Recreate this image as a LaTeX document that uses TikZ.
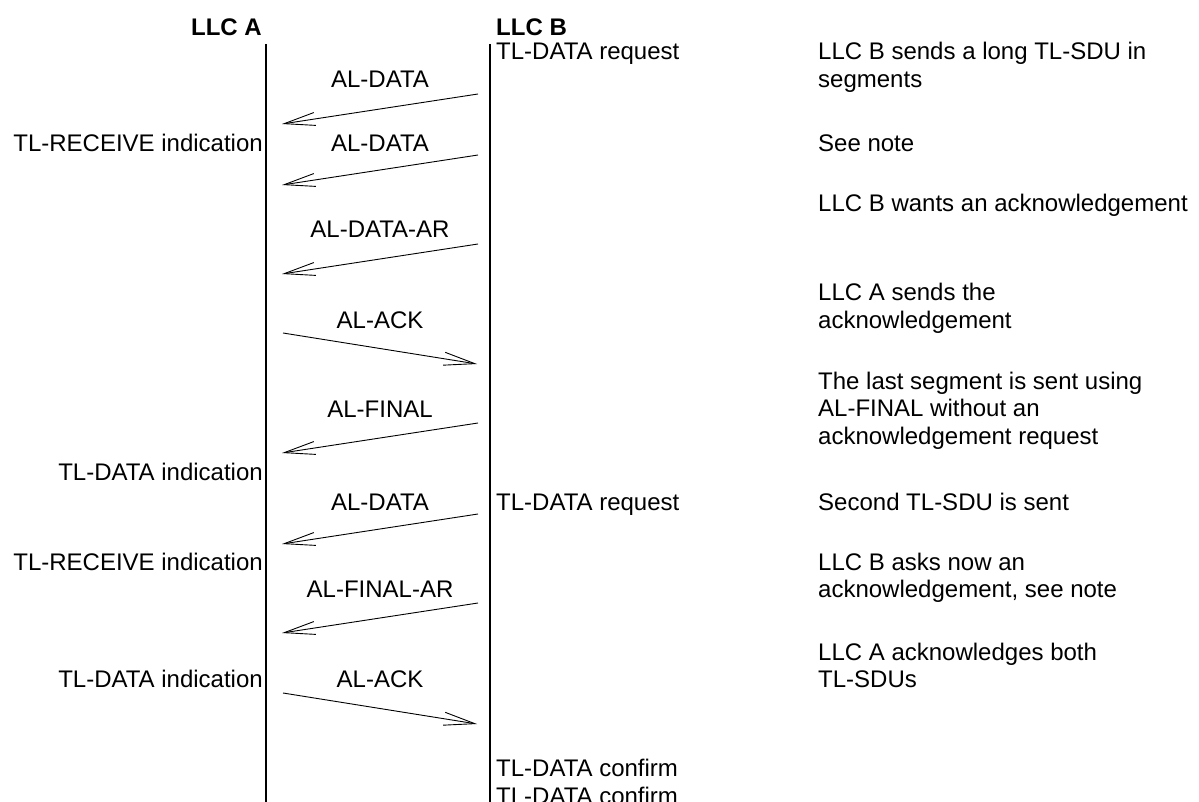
\documentclass[tikz,border=0pt]{standalone}
\usepackage{fontspec}
\setmainfont{Liberation Sans}
\usetikzlibrary{arrows.meta}

\begin{document}
\begin{tikzpicture}[x=1pt, y=-1pt, >={Straight Barb[length=31pt,width=13pt]},
  font=\fontsize{24}{27.6}\selectfont, inner sep=0pt,
  msg/.style={->, line width=0.9pt},
  lifeline/.style={line width=1.8pt},
  lbl/.style={anchor=base},
  lefttxt/.style={anchor=base east},
  righttxt/.style={anchor=base west, align=left}]

\useasboundingbox (0,0) rectangle (1199,802);

% Entities and their lifelines
\node[lefttxt, font=\fontsize{24}{27.6}\selectfont\bfseries] (llca) at (262,36) {LLC A};
\node[righttxt, font=\fontsize{24}{27.6}\selectfont\bfseries] (llcb) at (496,36) {LLC B};
\coordinate (atop) at (266,44);
\coordinate (abot) at (266,802);
\coordinate (btop) at (490,44);
\coordinate (bbot) at (490,802);
\draw[lifeline] (atop) -- (abot);
\draw[lifeline] (btop) -- (bbot);

% Message end points (b = LLC B side, a = LLC A side)
\coordinate (b1) at (478,94);  \coordinate (a1) at (282,124);
\coordinate (b2) at (478,155); \coordinate (a2) at (282,185);
\coordinate (b3) at (478,244); \coordinate (a3) at (282,274);
\coordinate (a4) at (283,333); \coordinate (b4) at (477,364);
\coordinate (b5) at (478,423); \coordinate (a5) at (282,453);
\coordinate (b6) at (478,514); \coordinate (a6) at (282,544);
\coordinate (b7) at (478,603); \coordinate (a7) at (282,633);
\coordinate (a8) at (283,693); \coordinate (b8) at (477,724);

% First TL-SDU, sent in segments
% (a multi-line node sits on the baseline of its last line)
\node[righttxt] (req1) at (496,60) {TL-DATA request};
\node[righttxt] (note1) at (818,87.6) {LLC B sends a long TL-SDU in\\segments};
\node[lbl] (m1) at (380,88) {AL-DATA};
\draw[msg] (b1) -- (a1);

\node[lefttxt] (recv1) at (263,151.5) {TL-RECEIVE indication};
\node[lbl] (m2) at (380,151.5) {AL-DATA};
\node[righttxt] (note2) at (818,151.5) {See note};
\draw[msg] (b2) -- (a2);

\node[righttxt] (note3) at (818,212) {LLC B wants an acknowledgement};
\node[lbl] (m3) at (380,238) {AL-DATA-AR};
\draw[msg] (b3) -- (a3);

\node[righttxt] (note4) at (818,328.3) {LLC A sends the\\acknowledgement};
\node[lbl] (m4) at (380,328.3) {AL-ACK};
\draw[msg] (a4) -- (b4);

\node[righttxt] (note5) at (818,444.5) {The last segment is sent using\\AL-FINAL without an\\acknowledgement request};
\node[lbl] (m5) at (380,417) {AL-FINAL};
\draw[msg] (b5) -- (a5);
\node[lefttxt] (ind1) at (263,480) {TL-DATA indication};

% Second TL-SDU
\node[righttxt] (req2) at (496,510) {TL-DATA request};
\node[righttxt] (note6) at (818,510) {Second TL-SDU is sent};
\node[lbl] (m6) at (380,510) {AL-DATA};
\draw[msg] (b6) -- (a6);

\node[lefttxt] (recv2) at (263,570) {TL-RECEIVE indication};
\node[righttxt] (note7) at (818,597.6) {LLC B asks now an\\acknowledgement, see note};
\node[lbl] (m7) at (380,597.6) {AL-FINAL-AR};
\draw[msg] (b7) -- (a7);

\node[righttxt] (note8) at (818,687.6) {LLC A acknowledges both\\TL-SDUs};
\node[lefttxt] (ind2) at (263,687.6) {TL-DATA indication};
\node[lbl] (m8) at (380,687.6) {AL-ACK};
\draw[msg] (a8) -- (b8);

\node[righttxt] (conf1) at (496,776.7) {TL-DATA confirm};
\node[righttxt] (conf2) at (496,804.3) {TL-DATA confirm};

\end{tikzpicture}
\end{document}
